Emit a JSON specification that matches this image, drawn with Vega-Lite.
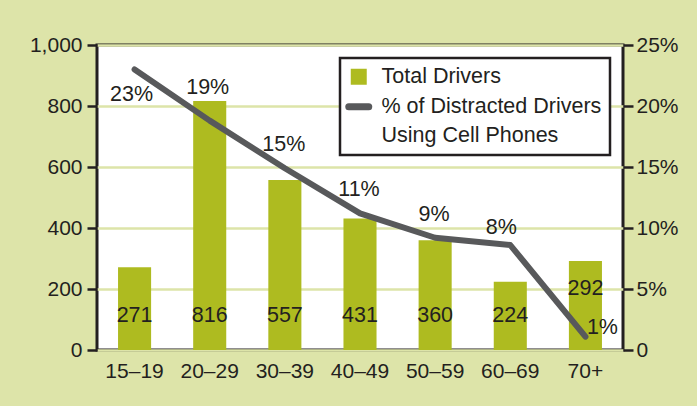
{
  "$schema": "https://vega.github.io/schema/vega-lite/v6.json",
  "width": 526,
  "height": 305,
  "autosize": {"type": "none"},
  "padding": {"left": 97, "top": 45, "right": 74, "bottom": 56},
  "background": "#dde4a9",
  "config": {
    "font": "Liberation Sans, Arial, sans-serif",
    "view": {"fill": "white", "stroke": "#231f20", "strokeWidth": 3},
    "axis": {"labelFont": "Liberation Sans, Arial, sans-serif", "labelFontSize": 21, "labelColor": "#231f20", "domain": false, "tickColor": "#231f20", "tickWidth": 2.5, "tickSize": 10, "title": null},
    "legend": {"labelFont": "Liberation Sans, Arial, sans-serif"}
  },
  "data": {"values": [
    {"age": "15–19", "total": 271, "pct": 23, "pctLabel": "23%"},
    {"age": "20–29", "total": 816, "pct": 18.8, "pctLabel": "19%"},
    {"age": "30–39", "total": 557, "pct": 14.9, "pctLabel": "15%"},
    {"age": "40–49", "total": 431, "pct": 11.2, "pctLabel": "11%"},
    {"age": "50–59", "total": 360, "pct": 9.2, "pctLabel": "9%"},
    {"age": "60–69", "total": 224, "pct": 8.6, "pctLabel": "8%"},
    {"age": "70+", "total": 292, "pct": 1.1, "pctLabel": "1%"}
  ]},
  "encoding": {
    "x": {"field": "age", "type": "nominal", "sort": null,
      "scale": {"paddingInner": 0.56, "paddingOuter": 0.28},
      "axis": {"labelAngle": 0, "ticks": false, "labelPadding": 10, "title": null}}
  },
  "layer": [
    {
      "layer": [
        {
          "mark": {"type": "bar", "color": "#aebb20"},
          "encoding": {
            "y": {"field": "total", "type": "quantitative", "scale": {"domain": [0, 1000], "nice": false},
              "axis": {"orient": "left", "values": [0, 200, 400, 600, 800, 1000], "labelExpr": "format(datum.value, ',')", "grid": true, "gridColor": "#dde4a9", "gridWidth": 2.5, "labelPadding": 5}},
            "color": {"datum": "Total Drivers", "type": "nominal",
              "scale": {"domain": ["Total Drivers", "% of Distracted Drivers Using Cell Phones"], "range": ["#aebb20", "#58595b"]},
              "legend": {
                "title": null, "orient": "none", "legendX": 243, "legendY": 13,
                "strokeColor": "#231f20", "fillColor": "white",
                "padding": 8, "labelFontSize": 21.5, "labelColor": "#231f20", "labelLimit": 0,
                "rowPadding": 4, "labelOffset": 12,
                "labelExpr": "datum.label == 'Total Drivers' ? datum.label : ['% of Distracted Drivers', 'Using Cell Phones']",
                "encode": {
                  "legend": {"update": {"strokeWidth": {"value": 2.5}}},
                  "labels": {"update": {"lineHeight": {"value": 29}}},
                  "symbols": {"update": {
                    "shape": {"signal": "datum.index == 0 ? 'square' : 'stroke'"},
                    "size": {"signal": "datum.index == 0 ? 256 : 400"},
                    "fill": {"signal": "datum.index == 0 ? '#aebb20' : 'transparent'"},
                    "stroke": {"signal": "datum.index == 0 ? 'transparent' : '#58595b'"},
                    "strokeWidth": {"signal": "datum.index == 0 ? 0 : 7"},
                    "strokeCap": {"value": "round"}
                  }}
                }
              }}
          }
        },
        {
          "transform": [{"filter": "datum.age != '70+'"}],
          "mark": {"type": "text", "fontSize": 21.5, "color": "#231f20", "baseline": "middle"},
          "encoding": {
            "y": {"datum": 111, "type": "quantitative"},
            "text": {"field": "total", "type": "quantitative"}
          }
        },
        {
          "transform": [{"filter": "datum.age == '70+'"}],
          "mark": {"type": "text", "fontSize": 21.5, "color": "#231f20", "baseline": "middle", "dy": -27},
          "encoding": {
            "y": {"datum": 111, "type": "quantitative"},
            "text": {"field": "total", "type": "quantitative"}
          }
        }
      ]
    },
    {
      "layer": [
        {
          "mark": {"type": "line", "strokeWidth": 6, "strokeCap": "round", "strokeJoin": "round", "color": "#58595b"},
          "encoding": {
            "y": {"field": "pct", "type": "quantitative", "scale": {"domain": [0, 25], "nice": false},
              "axis": {"orient": "right", "values": [0, 5, 10, 15, 20, 25], "grid": false, "labelExpr": "datum.value == 0 ? '0' : datum.value + '%'", "labelPadding": 3}},
            "color": {"datum": "% of Distracted Drivers Using Cell Phones", "type": "nominal"}
          }
        },
        {
          "transform": [{"filter": "datum.age == '30–39' || datum.age == '40–49' || datum.age == '50–59'"}],
          "mark": {"type": "text", "fontSize": 21.5, "color": "#231f20", "dy": -23, "dx": -1, "baseline": "middle"},
          "encoding": {
            "y": {"field": "pct", "type": "quantitative", "scale": {"domain": [0, 25], "nice": false}},
            "text": {"field": "pctLabel"}
          }
        },
        {
          "transform": [{"filter": "datum.age == '20–29'"}],
          "mark": {"type": "text", "fontSize": 21.5, "color": "#231f20", "dy": -33, "dx": -2, "baseline": "middle"},
          "encoding": {
            "y": {"field": "pct", "type": "quantitative", "scale": {"domain": [0, 25], "nice": false}},
            "text": {"field": "pctLabel"}
          }
        },
        {
          "transform": [{"filter": "datum.age == '60–69'"}],
          "mark": {"type": "text", "fontSize": 21.5, "color": "#231f20", "dy": -17, "dx": -9, "baseline": "middle"},
          "encoding": {
            "y": {"field": "pct", "type": "quantitative", "scale": {"domain": [0, 25], "nice": false}},
            "text": {"field": "pctLabel"}
          }
        },
        {
          "transform": [{"filter": "datum.age == '15–19'"}],
          "mark": {"type": "text", "fontSize": 21.5, "color": "#231f20", "dy": 26, "dx": -3, "baseline": "middle"},
          "encoding": {
            "y": {"field": "pct", "type": "quantitative", "scale": {"domain": [0, 25], "nice": false}},
            "text": {"field": "pctLabel"}
          }
        },
        {
          "transform": [{"filter": "datum.age == '70+'"}],
          "mark": {"type": "text", "fontSize": 21.5, "color": "#231f20", "dy": -9, "dx": 17, "baseline": "middle"},
          "encoding": {
            "y": {"field": "pct", "type": "quantitative", "scale": {"domain": [0, 25], "nice": false}},
            "text": {"field": "pctLabel"}
          }
        }
      ]
    }
  ],
  "resolve": {"scale": {"y": "independent"}}
}
